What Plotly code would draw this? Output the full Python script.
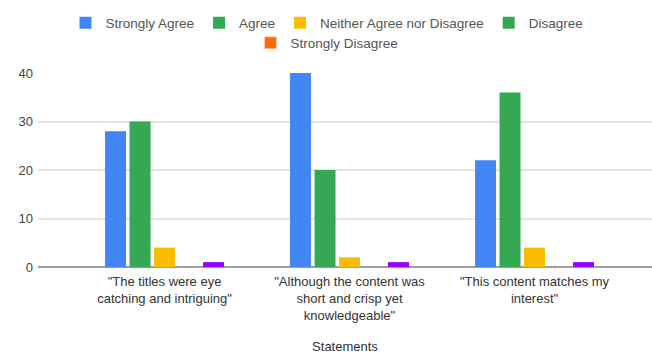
import plotly.graph_objects as go

categories = [
    '"The titles were eye<br>catching and intriguing"',
    '"Although the content was<br>short and crisp yet<br>knowledgeable"',
    '"This content matches my<br>interest"',
]
series_names = ["Strongly Agree", "Agree", "Neither Agree nor Disagree", "Disagree", "Strongly Disagree"]
strongly_agree = [28, 40, 22]
agree = [30, 20, 36]
neither = [4, 2, 4]
disagree = [0, 0, 0]
strongly_disagree = [1, 1, 1]
y_ticks = [0, 10, 20, 30, 40]

values = [strongly_agree, agree, neither, disagree, strongly_disagree]
bar_colors = ["#4285F4", "#34A853", "#FBBC04", "#34A853", "#9900FF"]
legend_colors = ["#4285F4", "#34A853", "#FBBC04", "#34A853", "#FF6D01"]

FONT = "Liberation Sans, Arial, sans-serif"
fig = go.Figure()
for i, (name, vals) in enumerate(zip(series_names, values)):
    is_last = i == len(series_names) - 1
    fig.add_trace(go.Bar(
        x=categories, y=vals, name=name,
        marker=dict(color=bar_colors[i], line=dict(width=0)),
        offsetgroup=str(i),
        showlegend=not is_last,
        legend="legend",
        hoverinfo="skip",
    ))
# legend-only entry for the last series (legend swatch colour differs from bar colour)
fig.add_trace(go.Bar(
    x=categories, y=[None] * len(categories), name=series_names[-1],
    marker=dict(color=legend_colors[-1]),
    offsetgroup=str(len(series_names) - 1),
    legend="legend2",
    hoverinfo="skip",
))

LEG_X = 0.4707
fig.update_layout(
    width=652, height=358,
    margin=dict(l=38, r=0, t=73, b=91),
    paper_bgcolor="white", plot_bgcolor="white",
    font=dict(family=FONT, size=13, color="#444444"),
    barmode="group", bargap=0.338, bargroupgap=0.143,
    legend=dict(orientation="h", x=LEG_X, xanchor="center", y=1.2577, yanchor="middle",
                font=dict(size=13.5, color="#555555"), bgcolor="rgba(0,0,0,0)"),
    legend2=dict(orientation="h", x=LEG_X, xanchor="center", y=1.1546, yanchor="middle",
                 font=dict(size=13.5, color="#555555"), bgcolor="rgba(0,0,0,0)"),
    xaxis=dict(
        range=[-0.684, 2.635], showgrid=False, showline=False, ticks="",
        tickfont=dict(size=13, color="#333333"), ticklabelstandoff=5,
        title=dict(text="Statements", font=dict(size=13, color="#333333"), standoff=20),
    ),
    yaxis=dict(
        range=[0, 40], tickvals=y_ticks, showgrid=True, gridcolor="#e3e3e3", gridwidth=1.5,
        zeroline=True, zerolinecolor="#9e9e9e", zerolinewidth=2, showline=False, ticks="",
        tickfont=dict(size=13, color="#444444"), ticklabelstandoff=4,
    ),
)

fig.write_html("out.html")
